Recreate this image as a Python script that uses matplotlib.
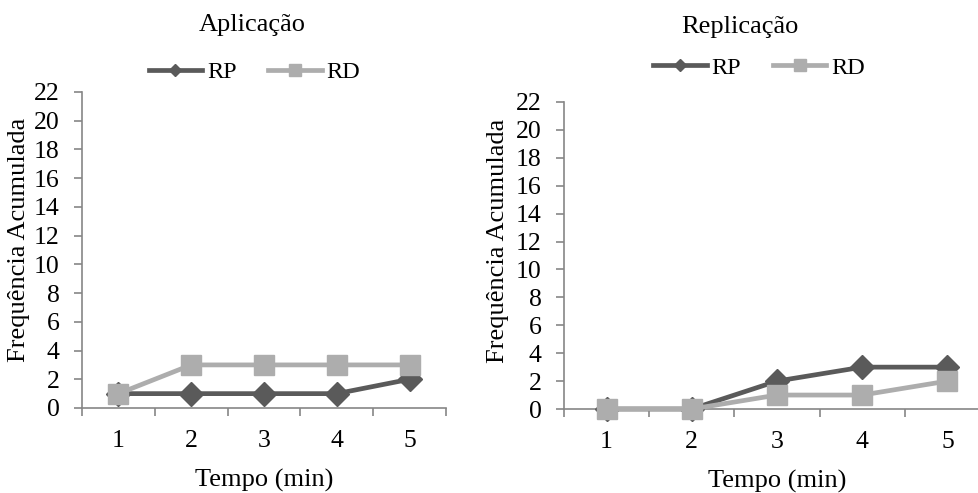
import matplotlib
matplotlib.use("Agg")
from matplotlib import pyplot as plt

plt.rcParams['font.family'] = ['Liberation Serif', 'DejaVu Serif']

tempo = [1, 2, 3, 4, 5]
yticks = list(range(0, 23, 2))

apl_rp = [1, 1, 1, 1, 2]
apl_rd = [1, 3, 3, 3, 3]
rep_rp = [0, 0, 2, 3, 3]
rep_rd = [0, 0, 1, 1, 2]

c_rp = '#5a5a5a'
c_rd = '#adadad'
c_axis = '#868686'

W, H = 979, 493
fig = plt.figure(figsize=(W / 100, H / 100), dpi=100)


def px_axes(x0, x1, ytop, ybot):
    return fig.add_axes([x0 / W, (H - ybot) / H, (x1 - x0) / W, (ybot - ytop) / H])


def draw(ax, rp, rd, title, title_xy, leg_xy):
    ax.plot(tempo, rp, color=c_rp, lw=3.4, marker='D', ms=12, label='RP',
            zorder=3, clip_on=False)
    ax.plot(tempo, rd, color=c_rd, lw=3.4, marker='s', ms=14.5, label='RD',
            zorder=4, clip_on=False)
    ax.set_xlim(0.5, 5.5)
    ax.set_ylim(0, 22)
    ax.set_yticks(yticks)
    ax.set_xticks(tempo)
    ax.set_xticks([0.5, 1.5, 2.5, 3.5, 4.5, 5.5], minor=True)
    ax.tick_params(axis='x', which='major', length=0, labelsize=18.5, pad=16)
    ax.tick_params(axis='x', which='minor', length=6, color=c_axis, width=1.2)
    ax.tick_params(axis='y', length=6, color=c_axis, width=1.2, labelsize=18.5, pad=10)
    for s in ['top', 'right']:
        ax.spines[s].set_visible(False)
    for s in ['left', 'bottom']:
        ax.spines[s].set_color(c_axis)
        ax.spines[s].set_linewidth(1.2)
    ax.set_xlabel('Tempo (min)', fontsize=19, labelpad=12)
    ax.text(title_xy[0], title_xy[1], title, transform=ax.transAxes,
            ha='center', va='baseline', fontsize=19)
    ax.legend(loc='center', bbox_to_anchor=leg_xy, ncol=2, frameon=False,
              fontsize=17.5, handlelength=2.2, handletextpad=0.2,
              columnspacing=1.3, markerscale=0.55)


ax1 = px_axes(82, 446, 92, 408)
draw(ax1, apl_rp, apl_rd, 'Aplicação', (0.467, 1.193), (0.474, 1.063))

ax2 = px_axes(564, 990, 102, 409)
draw(ax2, rep_rp, rep_rd, 'Replicação', (0.413, 1.225), (0.458, 1.111))

fig.text(19 / W, (H - 240) / H, 'Frequência Acumulada', rotation=90,
         ha='center', va='center', fontsize=19)
fig.text(498 / W, (H - 241) / H, 'Frequência Acumulada', rotation=90,
         ha='center', va='center', fontsize=19)

plt.savefig('out.png', dpi=100)
